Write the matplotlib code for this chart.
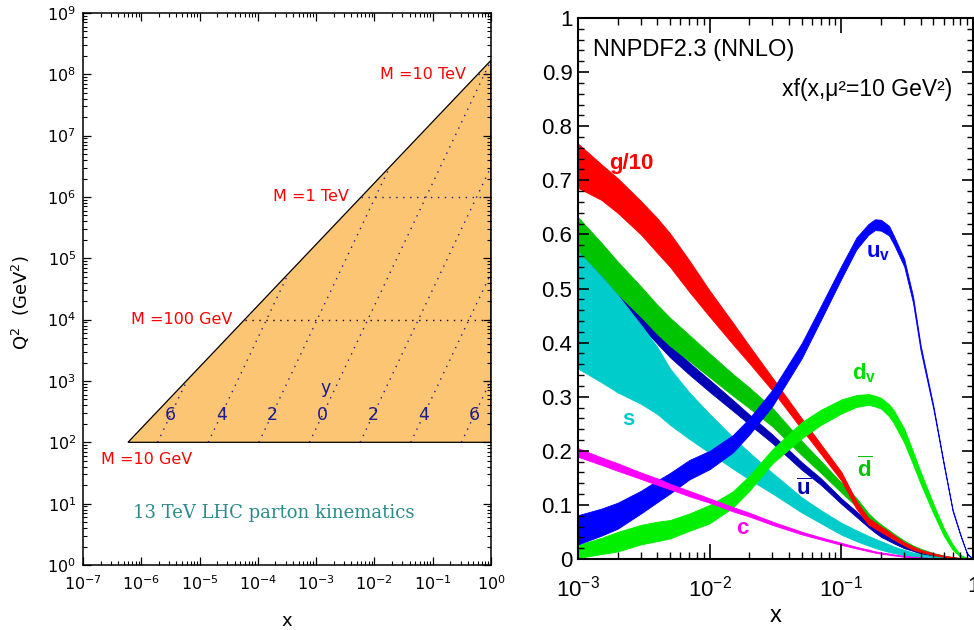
import numpy as np
import matplotlib
matplotlib.use("Agg")
import matplotlib.pyplot as plt
from matplotlib.ticker import FixedLocator, NullFormatter

plt.rcParams["mathtext.fontset"] = "custom"
plt.rcParams["mathtext.rm"] = "Liberation Sans"
plt.rcParams["mathtext.it"] = "Liberation Sans:italic"
plt.rcParams["mathtext.bf"] = "Liberation Sans:bold"

# ---- left panel: 13 TeV LHC parton kinematics ----
SQRT_S = 13000.0  # GeV
MASSES = [10.0, 100.0, 1000.0, 10000.0]
MASS_LABELS = ["M =10 GeV", "M =100 GeV", "M =1 TeV", "M =10 TeV"]
RAPIDITIES = [-6, -4, -2, 0, 2, 4, 6]

# ---- right panel: NNPDF2.3 NNLO, xf(x, mu^2 = 10 GeV^2), centre and half-width ----
X = [0.001, 0.0015, 0.002, 0.003, 0.004, 0.005, 0.007, 0.01, 0.015, 0.02, 0.03,
     0.05, 0.07, 0.1, 0.13, 0.16, 0.18, 0.2, 0.23, 0.25, 0.3, 0.35, 0.4, 0.5,
     0.6, 0.7, 0.8, 0.9, 1.0]
G10 = [0.727, 0.697, 0.672, 0.631, 0.598, 0.571, 0.523, 0.472, 0.417, 0.378,
       0.323, 0.25, 0.203, 0.153, 0.10, 0.07, 0.062, 0.055, 0.046, 0.04, 0.028,
       0.02, 0.015, 0.009, 0.005, 0.003, 0.0015, 0.0005, 0.0]
G10_ERR = [0.041, 0.033, 0.032, 0.031, 0.032, 0.031, 0.029, 0.024, 0.02, 0.016,
           0.012, 0.01, 0.009, 0.008, 0.007, 0.006, 0.0055, 0.005, 0.0045, 0.004,
           0.003, 0.003, 0.002, 0.0015, 0.001, 0.0008, 0.0006, 0.0004, 0.0]
UV = [0.054, 0.068, 0.08, 0.105, 0.125, 0.14, 0.165, 0.183, 0.213, 0.245, 0.298,
      0.385, 0.455, 0.53, 0.583, 0.609, 0.618, 0.617, 0.607, 0.59, 0.548, 0.48,
      0.39, 0.28, 0.175, 0.09, 0.045, 0.01, 0.0]
UV_ERR = [0.027, 0.025, 0.024, 0.021, 0.02, 0.019, 0.018, 0.017, 0.016, 0.015,
          0.015, 0.014, 0.013, 0.012, 0.011, 0.01, 0.01, 0.01, 0.009, 0.008,
          0.007, 0.006, 0.005, 0.003, 0.002, 0.0015, 0.001, 0.0007, 0.0]
DV = [0.014, 0.024, 0.032, 0.045, 0.051, 0.055, 0.068, 0.083, 0.11, 0.14, 0.19,
      0.238, 0.262, 0.282, 0.292, 0.295, 0.292, 0.288, 0.275, 0.263, 0.228,
      0.187, 0.15, 0.093, 0.05, 0.022, 0.006, 0.001, 0.0]
DV_ERR = [0.012, 0.015, 0.018, 0.018, 0.018, 0.017, 0.016, 0.017, 0.015, 0.014,
          0.013, 0.015, 0.014, 0.013, 0.011, 0.01, 0.01, 0.01, 0.011, 0.012,
          0.013, 0.012, 0.011, 0.009, 0.007, 0.005, 0.002, 0.0007, 0.0]
UBAR = [0.58, 0.525, 0.485, 0.443, 0.41, 0.385, 0.352, 0.32, 0.284, 0.258, 0.222,
        0.172, 0.143, 0.107, 0.083, 0.063, 0.053, 0.045, 0.037, 0.032, 0.023,
        0.017, 0.012, 0.006, 0.003, 0.0015, 0.0006, 0.0002, 0.0]
UBAR_ERR = [0.01, 0.011, 0.012, 0.012, 0.012, 0.012, 0.011, 0.011, 0.01, 0.009,
            0.008, 0.007, 0.006, 0.005, 0.005, 0.004, 0.004, 0.004, 0.0035, 0.003,
            0.003, 0.002, 0.002, 0.0015, 0.001, 0.0007, 0.0004, 0.0002, 0.0]
DBAR = [0.60, 0.555, 0.52, 0.476, 0.443, 0.42, 0.39, 0.358, 0.322, 0.298, 0.262,
        0.205, 0.17, 0.132, 0.105, 0.078, 0.067, 0.058, 0.048, 0.042, 0.03,
        0.022, 0.016, 0.009, 0.005, 0.0025, 0.001, 0.0003, 0.0]
DBAR_ERR = [0.032, 0.03, 0.03, 0.028, 0.027, 0.026, 0.024, 0.022, 0.02, 0.019,
            0.017, 0.013, 0.011, 0.009, 0.008, 0.007, 0.006, 0.006, 0.0055, 0.005,
            0.004, 0.003, 0.003, 0.002, 0.0015, 0.001, 0.0005, 0.0002, 0.0]
S = [0.46, 0.425, 0.398, 0.36, 0.33, 0.30, 0.265, 0.232, 0.196, 0.172, 0.14, 0.1,
     0.078, 0.056, 0.043, 0.034, 0.029, 0.025, 0.02, 0.017, 0.012, 0.008, 0.006,
     0.003, 0.0015, 0.0007, 0.0003, 0.0001, 0.0]
S_ERR = [0.108, 0.098, 0.09, 0.073, 0.062, 0.052, 0.043, 0.036, 0.029, 0.025,
         0.019, 0.014, 0.012, 0.011, 0.01, 0.009, 0.0085, 0.008, 0.007, 0.006,
         0.005, 0.004, 0.003, 0.002, 0.001, 0.0005, 0.0002, 0.0001, 0.0]
C = [0.197, 0.181, 0.17, 0.154, 0.143, 0.134, 0.121, 0.108, 0.092, 0.082, 0.066,
     0.048, 0.038, 0.028, 0.021, 0.016, 0.013, 0.011, 0.009, 0.0075, 0.005,
     0.0035, 0.0025, 0.0012, 0.0005, 0.0002, 0.0001, 0.0, 0.0]
C_ERR = [0.008, 0.007, 0.007, 0.006, 0.006, 0.005, 0.005, 0.004, 0.004, 0.0035,
         0.003, 0.0025, 0.002, 0.002, 0.0015, 0.0015, 0.0013, 0.0012, 0.0011,
         0.001, 0.001, 0.0008, 0.0006, 0.0005, 0.0004, 0.0003, 0.0002, 0.0001, 0.0]

ORANGE = "#fcc573"
NAVY = "#1c1c8c"


def kinematics(ax):
    s = SQRT_S ** 2
    q2_min = MASSES[0] ** 2
    ax.fill([q2_min / s, 1.0, 1.0], [q2_min, s, q2_min], facecolor=ORANGE,
            edgecolor="black", linewidth=0.9, zorder=1)
    dots = (0, (1, 4))
    for m, col in zip(MASSES[1:], ["black", NAVY, NAVY]):
        ax.plot([m ** 2 / s, 1.0], [m ** 2, m ** 2], linestyle=dots, color=col,
                linewidth=1.0, zorder=2)
    for k in RAPIDITIES:
        x0 = MASSES[0] / SQRT_S * np.exp(k)
        if k <= 0:
            x1, q1 = np.exp(2 * k), s * np.exp(2 * k)
        else:
            x1, q1 = 1.0, s * np.exp(-2 * k)
        ax.plot([x0, x1], [q2_min, q1], linestyle=dots, color=NAVY, linewidth=1.0,
                zorder=2)
        ax.text(np.exp(k) * np.sqrt(280.0) / SQRT_S, 280.0, str(abs(k)), color=NAVY,
                fontsize=12.5, ha="center", va="center", zorder=3)
    ax.text(1.45e-3, 760.0, "y", color=NAVY, fontsize=12.5, ha="center",
            va="center")
    for m, lab in zip(MASSES[1:], MASS_LABELS[1:]):
        ax.text(0.62 * m ** 2 / s, m ** 2, lab, color="red", fontsize=11.5,
                ha="right", va="center")
    ax.text(7.5e-6, 53.0, MASS_LABELS[0], color="red", fontsize=11.5, ha="right",
            va="center")
    ax.text(0.468, 0.094, "13 TeV LHC parton kinematics", transform=ax.transAxes,
            color="#2a8a8a", fontsize=13, family="DejaVu Serif", ha="center",
            va="center")

    ax.set_xscale("log")
    ax.set_yscale("log")
    ax.set_xlim(1e-7, 1.0)
    ax.set_ylim(1.0, 1e9)
    xdec = 10.0 ** np.arange(-7, 1)
    ydec = 10.0 ** np.arange(0, 10)
    ax.xaxis.set_major_locator(FixedLocator(xdec))
    ax.yaxis.set_major_locator(FixedLocator(ydec))
    ax.xaxis.set_minor_locator(FixedLocator(np.outer(xdec[:-1], np.arange(2, 10)).ravel()))
    ax.yaxis.set_minor_locator(FixedLocator(np.outer(ydec[:-1], np.arange(2, 10)).ravel()))
    ax.set_xticklabels([r"$\mathdefault{10^{%d}}$" % e for e in range(-7, 1)])
    ax.set_yticklabels([r"$\mathdefault{10^{%d}}$" % e for e in range(0, 10)])
    ax.xaxis.set_minor_formatter(NullFormatter())
    ax.yaxis.set_minor_formatter(NullFormatter())
    ax.tick_params(which="both", direction="in", top=True, right=True,
                   labelsize=11.5)
    ax.tick_params(axis="x", pad=6.5)
    ax.tick_params(axis="y", pad=5)
    ax.tick_params(which="major", length=5.5, width=0.9)
    ax.tick_params(which="minor", length=3, width=0.8)
    for sp in ax.spines.values():
        sp.set_linewidth(1.1)
    ax.set_xlabel("x", fontsize=13)
    ax.xaxis.set_label_coords(0.5, -0.085)
    ax.set_ylabel("Q$^2$  (GeV$^2$)", fontsize=13)
    ax.yaxis.set_label_coords(-0.125, 0.475)
    for t in [ax.xaxis.label, ax.yaxis.label]:
        t.set_math_fontfamily("dejavusans")


def pdfs(ax):
    x = np.array(X)
    bands = [
        (UBAR, UBAR_ERR, "#0000b4"),
        (DBAR, DBAR_ERR, "#00c400"),
        (S, S_ERR, "#00cccc"),
        (G10, G10_ERR, "#ff0000"),
        (DV, DV_ERR, "#00f000"),
        (UV, UV_ERR, "#0000ff"),
        (C, C_ERR, "#ff00ff"),
    ]
    for mid, err, col in bands:
        mid = np.array(mid)
        err = np.array(err)
        ax.fill_between(x, mid - err, mid + err, color=col, linewidth=0.6)

    sans = "Liberation Sans"
    ax.text(2.55e-3, 0.732, "g/10", color="#ff0000", fontsize=16, weight="bold",
            family=sans, ha="center", va="center")
    ax.text(0.19, 0.566, r"$\mathbf{u_v}$", color="#0000ff", fontsize=16,
            ha="center", va="center")
    ax.text(0.149, 0.344, r"$\mathbf{d_v}$", color="#00dd00", fontsize=16,
            ha="center", va="center")
    ax.text(0.15, 0.168, r"$\overline{\mathbf{d}}$", color="#00c400", fontsize=16,
            ha="center", va="center")
    ax.text(0.052, 0.13, r"$\overline{\mathbf{u}}$", color="#0000b4", fontsize=16,
            ha="center", va="center")
    ax.text(2.4e-3, 0.257, "s", color="#00cccc", fontsize=16, weight="bold",
            family=sans, ha="center", va="center")
    ax.text(0.0176, 0.056, "c", color="#ff00ff", fontsize=16, weight="bold",
            family=sans, ha="center", va="center")
    ax.text(0.038, 0.941, "NNPDF2.3 (NNLO)", transform=ax.transAxes, fontsize=17,
            family=sans, ha="left", va="center")
    ax.text(0.947, 0.867, "xf(x,μ²=10 GeV²)", transform=ax.transAxes, fontsize=16.5,
            family=sans, ha="right", va="center")

    ax.set_xscale("log")
    ax.set_xlim(1e-3, 1.0)
    ax.set_ylim(0.0, 1.0)
    xdec = [1e-3, 1e-2, 1e-1, 1.0]
    ax.xaxis.set_major_locator(FixedLocator(xdec))
    ax.set_xticklabels([r"$10^{-3}$", r"$10^{-2}$", r"$10^{-1}$", "1"],
                       fontsize=16, family=sans)
    ax.xaxis.set_minor_locator(FixedLocator(np.outer(xdec[:-1], np.arange(2, 10)).ravel()))
    ax.xaxis.set_minor_formatter(NullFormatter())
    yt = np.round(np.arange(0, 1.01, 0.1), 1)
    ax.set_yticks(yt)
    ax.set_yticklabels(["0"] + ["%.1f" % v for v in yt[1:-1]] + ["1"], fontsize=16,
                       family=sans)
    ax.yaxis.set_minor_locator(FixedLocator(np.arange(0, 1.001, 0.02)))
    ax.tick_params(which="both", direction="in", top=True, right=True)
    ax.tick_params(axis="x", which="major", length=11, width=1.2, pad=12)
    ax.tick_params(axis="x", which="minor", length=5, width=1.0)
    ax.tick_params(axis="y", which="major", length=8, width=1.2, pad=4)
    ax.tick_params(axis="y", which="minor", length=4.5, width=1.0)
    for sp in ax.spines.values():
        sp.set_linewidth(1.5)
    ax.set_xlabel("x", fontsize=17, family=sans)
    ax.xaxis.set_label_coords(0.5, -0.085)


fig = plt.figure(figsize=(9.74, 6.3), dpi=100)
ax1 = fig.add_axes([0.0852, 0.1032, 0.4189, 0.8762])
ax2 = fig.add_axes([0.5934, 0.1127, 0.4056, 0.8587])
kinematics(ax1)
pdfs(ax2)
fig.savefig("out.png", dpi=100)
